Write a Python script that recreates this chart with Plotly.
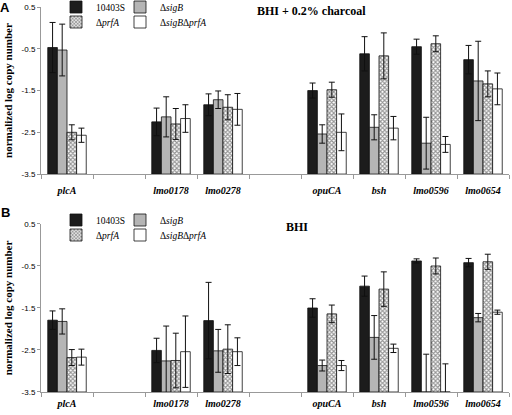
import plotly.graph_objects as go

# ---- data ----
categories = ["plcA", "gap1", "lmo0178", "lmo0278", "gap2", "opuCA", "bsh", "lmo0596", "lmo0654"]
tick_labels = ["plcA", "", "lmo0178", "lmo0278", "", "opuCA", "bsh", "lmo0596", "lmo0654"]
genes = ["plcA", "lmo0178", "lmo0278", "opuCA", "bsh", "lmo0596", "lmo0654"]
strains = ["10403S", "Δ<i>sigB</i>", "Δ<i>prfA</i>", "Δ<i>sigB</i>Δ<i>prfA</i>"]

# Panel A: BHI + 0.2% charcoal
wt_A = [-0.47, -2.25, -1.84, -1.50, -0.62, -0.45, -0.76]
wt_A_err = [0.60, 0.33, 0.26, 0.18, 0.41, 0.18, 0.34]
sigB_A = [-0.53, -2.13, -1.72, -2.54, -2.38, -2.76, -1.27]
sigB_A_err = [0.62, 0.48, 0.21, 0.22, 0.30, 0.62, 0.95]
prfA_A = [-2.50, -2.30, -1.90, -1.48, -0.67, -0.38, -1.34]
prfA_A_err = [0.18, 0.37, 0.30, 0.18, 0.55, 0.19, 0.31]
dbl_A = [-2.57, -2.17, -1.95, -2.50, -2.40, -2.79, -1.46]
dbl_A_err = [0.17, 0.33, 0.38, 0.44, 0.28, 0.19, 0.38]

# Panel B: BHI
wt_B = [-1.79, -2.51, -1.80, -1.50, -0.98, -0.38, -0.42]
wt_B_err = [0.22, 0.29, 0.91, 0.22, 0.24, 0.05, 0.10]
sigB_B = [-1.82, -2.76, -2.52, -2.87, -2.20, -3.50, -1.73]
sigB_B_err = [0.30, 0.83, 0.51, 0.13, 0.52, 0.90, 0.10]
prfA_B = [-2.68, -2.75, -2.48, -1.64, -1.05, -0.50, -0.40]
prfA_B_err = [0.19, 0.65, 0.58, 0.21, 0.41, 0.19, 0.18]
dbl_B = [-2.67, -2.54, -2.54, -2.87, -2.46, -3.50, -1.60]
dbl_B_err = [0.19, 0.85, 0.33, 0.12, 0.10, 0.67, 0.05]

y_ticks = [0.5, -0.5, -1.5, -2.5, -3.5]
y_tick_labels = ["0.5", "-0.5", "-1.5", "-2.5", "-3.5"]
BASE = -3.5

panel_titles = ["BHI + 0.2% charcoal", "BHI"]
panel_letters = ["A", "B"]

SERIF = "Liberation Serif, Times New Roman, serif"
SANS = "Liberation Sans, Arial, sans-serif"

styles = [
    dict(color="#1c1c1c", pattern=None),
    dict(color="#b5b5b5", pattern=None),
    dict(color="white", pattern=dict(shape="x", size=3, solidity=0.6, fgcolor="#2a2a2a", bgcolor="white")),
    dict(color="white", pattern=None),
]

# legend entry placement (pixels): column left edges, row centres per panel
leg_x_px = [56, 120, 56, 120]
leg_rows_px = [[7, 7, 22, 22], [220, 220, 235, 235]]


def full(vals):
    d = dict(zip(genes, vals))
    return [d.get(c) for c in categories]


fig = go.Figure()
panels = [
    ([wt_A, sigB_A, prfA_A, dbl_A], [wt_A_err, sigB_A_err, prfA_A_err, dbl_A_err], "x", "y"),
    ([wt_B, sigB_B, prfA_B, dbl_B], [wt_B_err, sigB_B_err, prfA_B_err, dbl_B_err], "x2", "y2"),
]
leg_n = 0
legend_layouts = {}
for p, (vals_list, errs_list, xa, ya) in enumerate(panels):
    for i, (vals, errs) in enumerate(zip(vals_list, errs_list)):
        leg_n += 1
        leg_name = "legend" if leg_n == 1 else "legend%d" % leg_n
        v = full(vals)
        e = full(errs)
        heights = [None if a is None else a - BASE for a in v]
        marker = dict(color=styles[i]["color"], line=dict(color="#111", width=0.8))
        if styles[i]["pattern"]:
            marker["pattern"] = styles[i]["pattern"]
        fig.add_trace(go.Bar(
            x=categories, y=heights, base=BASE, name=strains[i],
            marker=marker, xaxis=xa, yaxis=ya, legend=leg_name, showlegend=True,
            error_y=dict(type="data", array=[0 if a is None else a for a in e],
                         color="#111", thickness=1, width=3),
        ))
        legend_layouts[leg_name] = dict(
            orientation="h", xanchor="left", yanchor="middle",
            x=(leg_x_px[i] - 41) / 468, y=(392 - leg_rows_px[p][i]) / 385,
            bgcolor="rgba(0,0,0,0)", borderwidth=0, itemwidth=30,
            font=dict(family=SERIF, size=9.5, color="black"),
        )

axis_common_x = dict(
    type="category", categoryorder="array", categoryarray=categories,
    tickmode="array", tickvals=categories, ticktext=tick_labels,
    tickson="boundaries", ticks="outside", ticklen=4, tickcolor="#999",
    showline=True, linecolor="#999", linewidth=1, showgrid=False, zeroline=False,
    tickfont=dict(family=SERIF, size=10, color="black", weight="bold", style="italic"),
    range=[-0.5, 8.5], domain=[0, 1],
)
axis_common_y = dict(
    range=[-3.5, 0.5], tickmode="array", tickvals=y_ticks, ticktext=y_tick_labels,
    ticks="outside", ticklen=3, tickcolor="#999", showline=True, linecolor="#999",
    linewidth=1, showgrid=False, zeroline=False,
    tickfont=dict(family=SANS, size=8, color="black"),
    title=dict(text="normalized log copy number", font=dict(family=SERIF, size=11, color="black", weight="bold"), standoff=6),
)

fig.update_layout(
    width=512, height=415,
    margin=dict(l=41, r=3, t=7, b=23, autoexpand=False),
    paper_bgcolor="white", plot_bgcolor="white",
    showlegend=True,
    barmode="group", bargap=0.26, bargroupgap=0,
    xaxis=dict(axis_common_x, anchor="y", ticklabelstandoff=7),
    yaxis=dict(axis_common_y, domain=[0.566, 1.0], anchor="x"),
    xaxis2=dict(axis_common_x, anchor="y2", ticklabelstandoff=2),
    yaxis2=dict(axis_common_y, domain=[0.0, 0.4364], anchor="x2"),
    **legend_layouts,
)

annotations = [
    dict(text="<b>" + panel_titles[0] + "</b>", x=311, y=11),
    dict(text="<b>" + panel_titles[1] + "</b>", x=297, y=227),
]
for a in annotations:
    fig.add_annotation(text=a["text"], xref="paper", yref="paper",
                       x=(a["x"] - 41) / 468, y=(392 - a["y"]) / 385,
                       showarrow=False, xanchor="center", yanchor="middle",
                       font=dict(family=SERIF, size=12, color="black"))
for letter, ypx in zip(panel_letters, [7, 213]):
    fig.add_annotation(text="<b>" + letter + "</b>", xref="paper", yref="paper",
                       x=(5 - 41) / 468, y=(392 - ypx) / 385, showarrow=False,
                       xanchor="center", yanchor="middle",
                       font=dict(family=SANS, size=13, color="black"))

fig.write_html(
    "out.html",
    config={"displayModeBar": False},
    post_script="document.body.style.margin='0px';document.body.style.overflow='hidden';",
)
